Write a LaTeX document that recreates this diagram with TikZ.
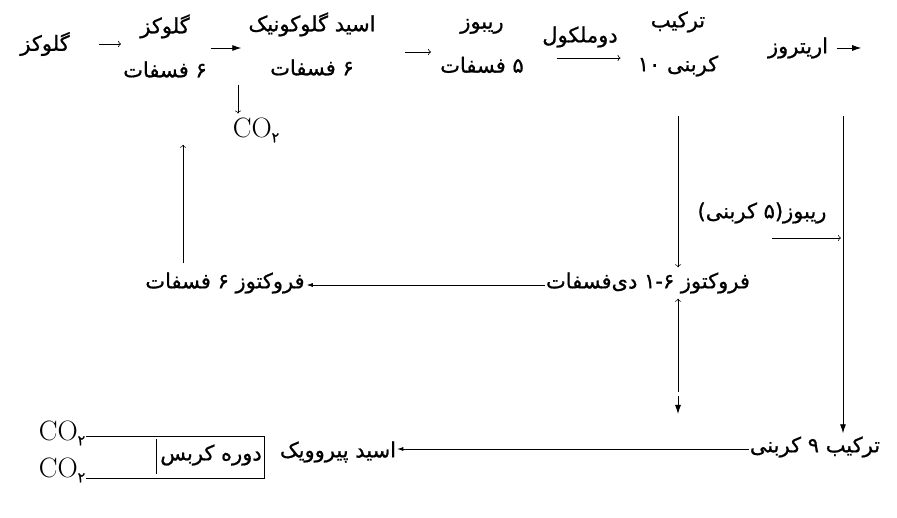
\documentclass[tikz,border=0pt]{standalone}
\usepackage{fontspec}
\usetikzlibrary{arrows.meta}
\TeXXeTstate=1
\newfontfamily\fafont[Script=Arabic, FakeBold=0.8]{DejaVu Sans}
\newcommand{\fa}[1]{\beginR #1\endR}
\newcommand{\cotwo}{{\rmfamily\fontsize{28}{30}\selectfont CO\raisebox{-5pt}{\fafont\fontsize{14}{15}\selectfont ۲}}}

\begin{document}
\begin{tikzpicture}[x=1pt, y=-1pt,
    every node/.style={font=\fafont\fontsize{21}{24}\selectfont, inner sep=1pt},
    arr/.style={->, semithick},
    bigarr/.style={-{Latex[length=9pt,width=6pt]}, thick},
    smallarr/.style={-{Latex[length=6pt,width=4pt]}, semithick}]
    \useasboundingbox (0, 0) rectangle (897, 518);
    % top row
    \node (glc) at (45, 44) {\fa{گلوکز}};
    \node[align=center] (gp) at (165, 46) {\fa{گلوکز}\\[20pt]\fa{۶ فسفات}};
    \node[align=center] (gpa) at (312, 44) {\fa{اسید گلوکونیک}\\[20pt]\fa{۶ فسفات}};
    \node (co1) at (256, 130) {\cotwo};
    \node[align=center] (rp) at (482, 46) {\fa{ریبوز}\\[20pt]\fa{۵ فسفات}};
    \node (dimer) at (580, 37) {\fa{دوملکول}};
    \node[align=center] (c10) at (678, 44) {\fa{ترکیب}\\[20pt]\fa{کربنی ۱۰}};
    \node (ery) at (798, 48) {\fa{اریتروز}};
    \draw[arr, shorten <=28pt, shorten >=1pt] (glc.east) -- (glc.east -| gp.west);
    \draw[bigarr, shorten <=3pt, shorten >=6pt] ([yshift=-2pt]gp.east) -- ([yshift=-2pt]gp.east -| gpa.west);
    \draw[arr] (co1.north) ++(-18, -32) -- ++(0, 29);
    \draw[arr, shorten <=28pt, shorten >=8pt] ([yshift=-8pt]gpa.east) -- ([yshift=-8pt]gpa.east -| rp.west);
    \draw[arr, shorten <=32pt, shorten >=16pt] ([yshift=-12pt]rp.east) -- ([yshift=-12pt]rp.east -| c10.west);
    \draw[bigarr] (ery.east) ++(8, 0) -- ++(24, 0);
    % right side
    \node (r5) at (762, 213) {\fa{ریبوز(۵ کربنی)}};
    \coordinate (erydown) at (843, 116);
    \coordinate (r5in) at (843, 238);
    % middle row
    \node (fbp) at (648, 283) {\fa{فروکتوز ۱-۶ دی‌فسفات}};
    \node (f6p) at (225, 283) {\fa{فروکتوز ۶ فسفات}};
    \draw[arr] (r5in) ++(-71, 0) -- ([xshift=-2pt]r5in);
    \draw[arr, shorten <=38pt, shorten >=4pt] (c10.south) -- (c10.south |- fbp.north);
    \draw[smallarr, shorten >=1pt] ([yshift=-2pt]fbp.west) -- ([yshift=-2pt]f6p.east);
    \draw[arr, shorten <=8pt, shorten >=66pt] ([xshift=18pt]f6p.north -| gp.south) -- ([xshift=18pt]gp.south);
    % bottom row
    \node (c9) at (815, 447) {\fa{ترکیب ۹ کربنی}};
    \node (pyr) at (338, 452) {\fa{اسید پیروویک}};
    \node (krebs) at (211, 455) {\fa{دوره کربس}};
    \node (co2a) at (62, 433) {\cotwo};
    \node (co2b) at (62, 470) {\cotwo};
    \draw[bigarr, shorten >=2pt] (erydown) -- (erydown |- c9.north);
    \coordinate (mid) at (678, 392);
    \draw[arr] (mid) -- ([yshift=-4pt]mid |- fbp.south);
    \draw[bigarr] (mid) ++(0, 4) -- ++(0, 18);
    \draw[smallarr] ([yshift=-2pt]c9.west) -- ([yshift=-2pt]c9.west -| pyr.east);
    \coordinate (ktr) at (264, 436);
    \coordinate (kbr) at (264, 478);
    \draw (co2a.east |- ktr) -- (ktr) -- (kbr) -- (co2b.east |- kbr);
    \draw ([xshift=-3pt, yshift=-3pt]krebs.west |- ktr) -- ([xshift=-3pt, yshift=4pt]krebs.west |- kbr);
\end{tikzpicture}
\end{document}
